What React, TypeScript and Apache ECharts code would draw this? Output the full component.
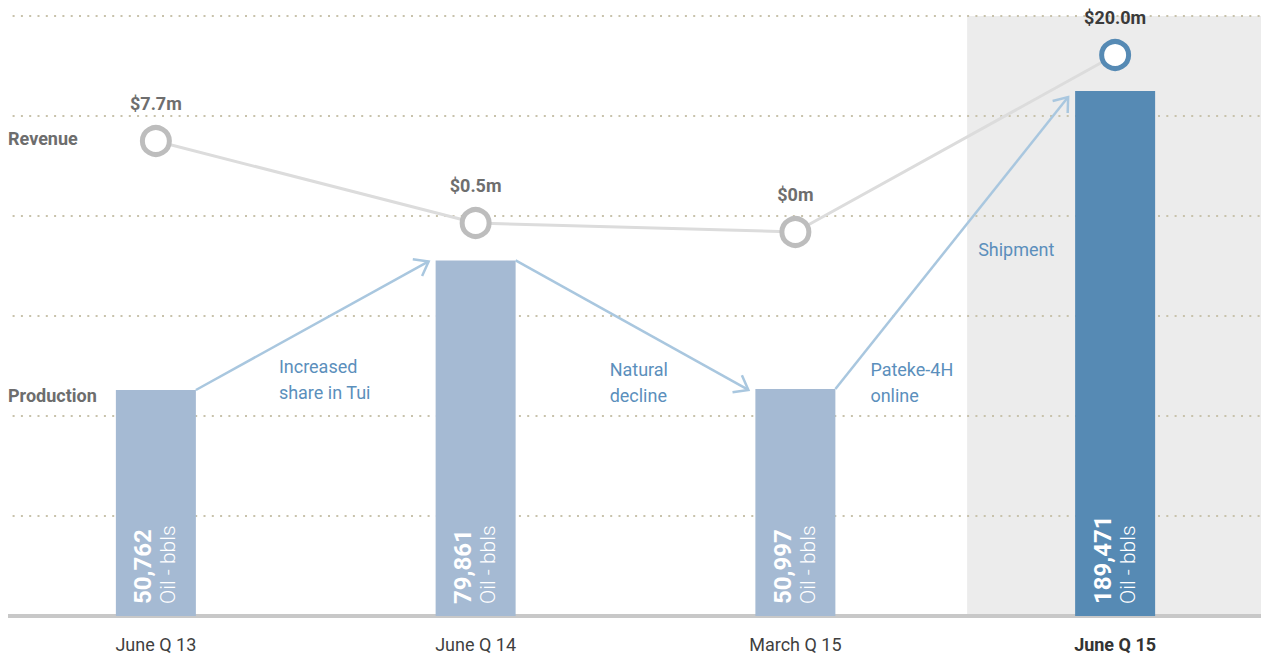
import React, { useEffect, useRef } from 'react';
import * as echarts from 'echarts';

const categories = ['June Q 13', 'June Q 14', 'March Q 15', 'June Q 15'];
const production = [50762, 79861, 50997, 189471];
const productionUnit = 'Oil - bbls';
const revenueValues = [7.7, 0.5, 0, 20.0];
// plotted height of each revenue point, in gridline rows above the baseline
const revenueLevels = [4.75, 3.93, 3.84, 5.61];
const annotations = ['Increased\nshare in Tui', 'Natural\ndecline', 'Pateke-4H\nonline', 'Shipment'];
const highlightIndex = 3;
// production axis is truncated (broken) between these values
const productionMax = 206321;
const productionBreak = { start: 100000, end: 171551 };
const gridRows = 6;

const FONT = 'Roboto, "Noto Sans", sans-serif';
const BAR = '#a5bad3';
const BAR_HI = '#568ab4';
const ARROW = '#a9c7df';
const NOTE = '#5b8fbc';

const fmtRev = (v: number) => (v === 0 ? '$0m' : `$${v.toFixed(1)}m`);

export default function App() {
  const ref = useRef<HTMLDivElement>(null);
  useEffect(() => {
    document.body.style.overflow = 'hidden';
    const chart = echarts.init(ref.current!, null, { renderer: 'svg' });
    const option: any = {
      animation: false,
      grid: { left: -12, right: -14, top: 8, bottom: 41, containLabel: false, outerBoundsMode: 'none' },
      xAxis: {
        type: 'category',
        data: categories,
        boundaryGap: true,
        axisTick: { show: false },
        axisLine: { lineStyle: { color: '#c8c8c8', width: 4 } },
        splitLine: { show: false },
        axisLabel: {
          margin: 19,
          formatter: (v: string, i: number) => (i === highlightIndex ? `{h|${v}}` : `{n|${v}}`),
          rich: {
            n: { fontSize: 18, fontFamily: FONT, color: '#3f3f3f' },
            h: { fontSize: 18, fontFamily: FONT, color: '#333333', fontWeight: 'bold' },
          },
        },
      },
      yAxis: [
        {
          type: 'value',
          show: false,
          min: 0,
          max: productionMax,
          breaks: [{ start: productionBreak.start, end: productionBreak.end, gap: 0 }],
          breakArea: { show: false },
          splitLine: { show: false },
        },
        {
          type: 'value',
          min: 0,
          max: gridRows,
          interval: 1,
          axisLabel: { show: false },
          axisLine: { show: false },
          axisTick: { show: false },
          splitLine: { show: true, lineStyle: { color: '#c8c2ab', width: 2, type: [2, 6.3] } },
        },
      ],
      series: [
        {
          type: 'bar',
          yAxisIndex: 0,
          barWidth: 80,
          z: 2,
          data: production.map((v, i) => ({
            value: v,
            itemStyle: { color: i === highlightIndex ? BAR_HI : BAR },
          })),
          label: {
            show: true,
            position: 'insideBottom',
            distance: 12,
            rotate: 90,
            align: 'left',
            verticalAlign: 'middle',
            formatter: (p: any) => `{v|${Number(p.value).toLocaleString('en-US')}}\n{u|${productionUnit}}`,
            rich: {
              v: { fontSize: 24, fontWeight: 'bold', color: '#ffffff', fontFamily: FONT, lineHeight: 25 },
              u: { fontSize: 21, fontWeight: 300, color: '#ffffff', fontFamily: FONT, lineHeight: 25 },
            },
          },
        },
        {
          type: 'line',
          yAxisIndex: 1,
          z: 3,
          symbol: 'circle',
          symbolSize: 27,
          lineStyle: { color: '#dcdcdc', width: 3 },
          itemStyle: { color: '#ffffff', borderColor: '#bdbdbd', borderWidth: 5 },
          data: revenueLevels.map((v, i) =>
            i === highlightIndex
              ? { value: v, itemStyle: { color: '#ffffff', borderColor: BAR_HI, borderWidth: 5 }, label: { color: '#3a3a3a' } }
              : { value: v }
          ),
          label: {
            show: true,
            position: 'top',
            distance: 13,
            formatter: (p: any) => fmtRev(revenueValues[p.dataIndex]),
            fontSize: 18,
            fontWeight: 'bold',
            fontFamily: FONT,
            color: '#6e6e6e',
          },
        },
      ],
    };
    chart.setOption(option);

    const pix = (i: number) => chart.convertToPixel({ xAxisIndex: 0, yAxisIndex: 0 }, [i, production[i]]) as number[];
    const rowY = (r: number) => chart.convertToPixel({ yAxisIndex: 1 }, r) as number;
    const tops = production.map((_, i) => pix(i));
    const gridTop = rowY(gridRows);
    const base = rowY(0);

    const graphics: any[] = [];
    // highlight band
    graphics.push({
      type: 'rect',
      z: -1,
      shape: { x: tops[highlightIndex][0] - 148, y: gridTop, width: 2000, height: base - gridTop },
      style: { fill: '#ececec' },
      silent: true,
    });
    // arrows between bars
    const tipDy = [1, 1, 6];
    for (let i = 0; i < production.length - 1; i++) {
      const x1 = tops[i][0] + 40;
      const y1 = tops[i][1];
      const x2 = tops[i + 1][0] - 47;
      const y2 = tops[i + 1][1] + tipDy[i];
      const ang = Math.atan2(y2 - y1, x2 - x1);
      const L = 16;
      const a = (37 * Math.PI) / 180;
      const p1 = [x2 - L * Math.cos(ang - a), y2 - L * Math.sin(ang - a)];
      const p2 = [x2 - L * Math.cos(ang + a), y2 - L * Math.sin(ang + a)];
      graphics.push({
        type: 'line',
        z: 4,
        shape: { x1, y1, x2, y2 },
        style: { stroke: ARROW, lineWidth: 2.5 },
        silent: true,
      });
      graphics.push({
        type: 'polyline',
        z: 4,
        shape: { points: [p1, [x2, y2], p2] },
        style: { stroke: ARROW, lineWidth: 2.5, fill: null },
        silent: true,
      });
    }
    // annotations
    const noteX = [123, 134, 75, -137];
    const noteY = [371, 374.5, 374.5, 241];
    annotations.forEach((t, i) => {
      graphics.push({
        type: 'text',
        z: 5,
        x: tops[i][0] + noteX[i],
        y: noteY[i],
        style: {
          text: t,
          fill: NOTE,
          fontSize: 18,
          fontFamily: FONT,
          fontWeight: 400,
          lineHeight: 26,
          textAlign: 'left',
          textVerticalAlign: 'middle',
        },
        silent: true,
      });
    });
    // side labels
    const revY = rowY(revenueLevels[0]);
    [
      { text: 'Revenue', y: revY - 3 },
      { text: 'Production', y: tops[0][1] + 5 },
    ].forEach((s) => {
      graphics.push({
        type: 'text',
        z: 5,
        x: 0,
        y: s.y,
        style: {
          text: s.text,
          fill: '#6d6d6d',
          fontSize: 18,
          fontWeight: 'bold',
          fontFamily: FONT,
          textAlign: 'left',
          textVerticalAlign: 'middle',
        },
        silent: true,
      });
    });
    chart.setOption({ graphic: graphics });

    return () => chart.dispose();
  }, []);
  return <div ref={ref} style={{ position: 'absolute', left: 8, top: 8, width: 1253, height: 649 }} />;
}
